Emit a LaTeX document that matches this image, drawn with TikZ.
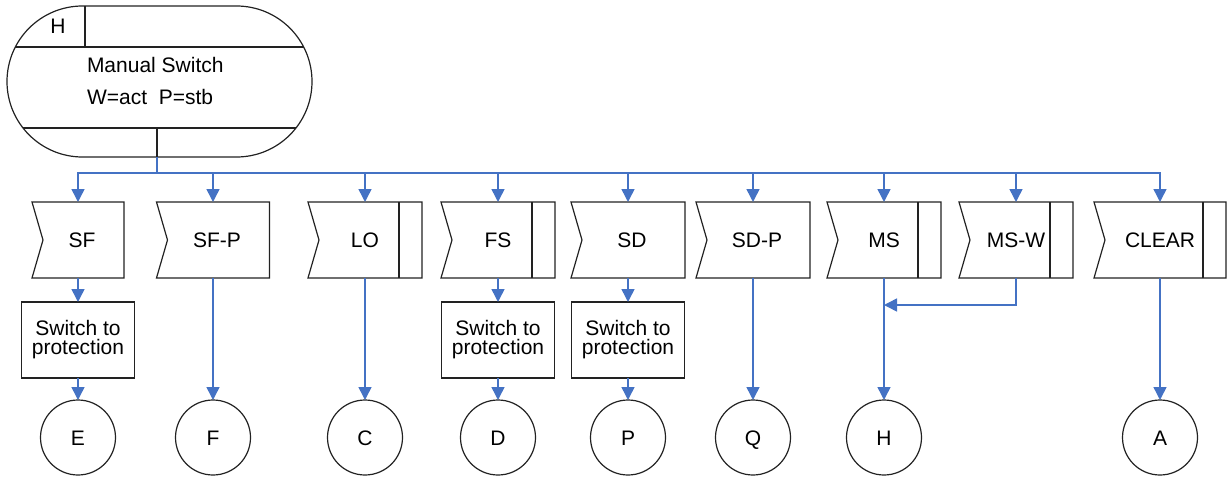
\documentclass[tikz,border=0pt]{standalone}
\usepackage{fontspec}
\setmainfont{Liberation Sans}
\usetikzlibrary{arrows.meta}
\definecolor{flowblue}{HTML}{4472C4}
\definecolor{linegray}{HTML}{222222}
\newcommand{\sigoutline}[1]{%
  \draw[shapeline] (#1.north west) -- (#1.north east) -- (#1.south east) -- (#1.south west) -- ([xshift=11pt]#1.west) -- cycle;}
\newcommand{\sigbar}[1]{%
  \draw[shapeline] ([xshift=-23pt]#1.north east) -- ([xshift=-23pt]#1.south east);}
\begin{document}
\begin{tikzpicture}[x=1pt,y=-1pt,
  every node/.style={font=\fontsize{21}{19}\selectfont, inner sep=0pt, outer sep=0pt, text=black},
  flow/.style={draw=flowblue, line width=1.5pt, -{Triangle[length=13pt,width=13pt]}},
  busline/.style={draw=flowblue, line width=1.5pt},
  shapeline/.style={draw=linegray, line width=1.2pt},
  sigbox/.style={minimum height=76pt, text height=15pt, text depth=0pt},
  procbox/.style={shapeline, minimum width=113pt, minimum height=76pt, align=center},
  conn/.style={shapeline, circle, minimum size=75pt, text height=15pt, text depth=0pt},
]
\useasboundingbox (0,0) rectangle (1229,479);

% top state
\node[shapeline, rounded corners=75.5pt, minimum width=305pt, minimum height=151pt] (state) at (159.5,81.5) {};
\begin{scope}
  \clip[rounded corners=75.5pt] (7,6) rectangle (312,157);
  \draw[shapeline] (0,47) -- (320,47);
  \draw[shapeline] (0,128) -- (320,128);
  \draw[shapeline] (85,0) -- (85,47);
\end{scope}
\node[anchor=base] (stH) at (58,33) {H};
\node[anchor=base west] (stname) at (87,72) {Manual Switch};
\node[anchor=base west] (stcond) at (87,104) {W=act\ \ P=stb};
\coordinate (stateout) at (157,157);
\coordinate (bus) at (157,173);
\draw[shapeline] (157,128) -- (stateout);
\draw[busline] (stateout) -- (bus);

% signal boxes
\node[sigbox, minimum width=92pt]  (sf)    at (78,240)   {\hspace*{8pt}SF};
\node[sigbox, minimum width=113pt] (sfp)   at (213,240)  {\hspace*{8pt}SF-P};
\node[sigbox, minimum width=114pt] (lo)    at (365,240)  {LO};
\node[sigbox, minimum width=114pt] (fs)    at (498,240)  {FS};
\node[sigbox, minimum width=114pt] (sd)    at (628,240)  {\hspace*{8pt}SD};
\node[sigbox, minimum width=114pt] (sdp)   at (753,240)  {\hspace*{8pt}SD-P};
\node[sigbox, minimum width=114pt] (ms)    at (884,240)  {MS};
\node[sigbox, minimum width=114pt] (msw)   at (1016,240) {MS-W};
\node[sigbox, minimum width=132pt] (clear) at (1160,240) {CLEAR};
\foreach \n in {sf,sfp,lo,fs,sd,sdp,ms,msw,clear} {\sigoutline{\n}}
\foreach \n in {lo,fs,ms,msw,clear} {\sigbar{\n}}

% process boxes
\node[procbox] (p1) at (78,340)  {Switch to\\protection};
\node[procbox] (p2) at (498,340) {Switch to\\protection};
\node[procbox] (p3) at (628,340) {Switch to\\protection};

% connectors (circles)
\node[conn] (cE) at (78,437.5)   {E};
\node[conn] (cF) at (213,437.5)  {F};
\node[conn] (cC) at (365,437.5)  {C};
\node[conn] (cD) at (498,437.5)  {D};
\node[conn] (cP) at (628,437.5)  {P};
\node[conn] (cQ) at (753,437.5)  {Q};
\node[conn] (cH) at (884,437.5)  {H};
\node[conn] (cA) at (1160,437.5) {A};

% bus arrows
\foreach \n in {sf,sfp,lo,fs,sd,sdp,ms,msw,clear} {\draw[flow] (bus) -| (\n.north);}

% vertical flows
\draw[flow] (sf.south) -- (p1.north);
\draw[flow] (p1.south) -- (cE.north);
\draw[flow] (sfp.south) -- (cF.north);
\draw[flow] (lo.south) -- (cC.north);
\draw[flow] (fs.south) -- (p2.north);
\draw[flow] (p2.south) -- (cD.north);
\draw[flow] (sd.south) -- (p3.north);
\draw[flow] (p3.south) -- (cP.north);
\draw[flow] (sdp.south) -- (cQ.north);
\draw[flow] (ms.south) -- (cH.north);
\draw[flow] (clear.south) -- (cA.north);
\coordinate (msj) at (884,305);
\draw[flow] (msw.south) |- (msj);
\end{tikzpicture}
\end{document}
